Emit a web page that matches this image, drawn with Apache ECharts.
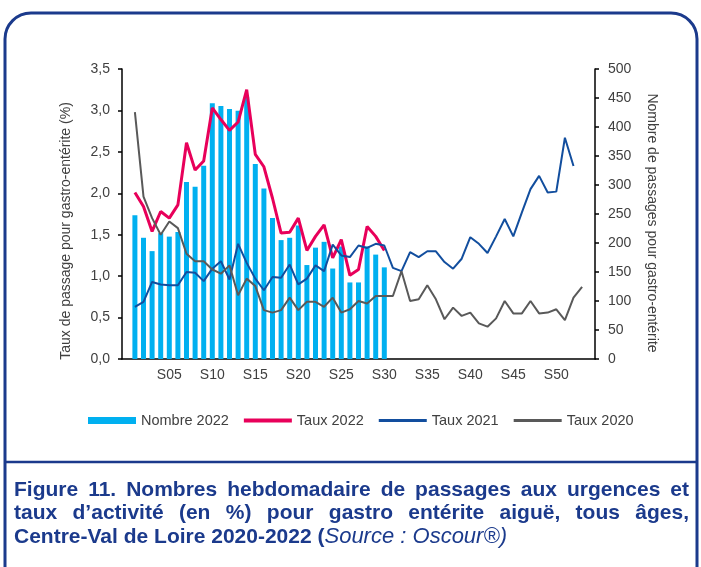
<!DOCTYPE html>
<html>
<head>
<meta charset="utf-8">
<script src="https://cdn.jsdelivr.net/npm/echarts@6/dist/echarts.min.js"></script>
<style>html,body{margin:0;padding:0;background:#fff}#mycharts{width:701px;height:567px}</style>
</head>
<body>
<div id="mycharts"></div>
<script>
// semaines (une case vide avant S01 et après S53, comme dans le graphique d'origine)
var semaines = ['', 'S01', 'S02', 'S03', 'S04', 'S05', 'S06', 'S07', 'S08', 'S09', 'S10',
    'S11', 'S12', 'S13', 'S14', 'S15', 'S16', 'S17', 'S18', 'S19', 'S20',
    'S21', 'S22', 'S23', 'S24', 'S25', 'S26', 'S27', 'S28', 'S29', 'S30',
    'S31', 'S32', 'S33', 'S34', 'S35', 'S36', 'S37', 'S38', 'S39', 'S40',
    'S41', 'S42', 'S43', 'S44', 'S45', 'S46', 'S47', 'S48', 'S49', 'S50',
    'S51', 'S52', 'S53', ''];

// nombre de passages 2022 (axe de droite)
var nombre2022 = [248, 209, 186, 217, 211, 219, 305, 297, 333, 441,
    436, 431, 428, 452, 336, 294, 243, 205, 209, 230,
    162, 192, 202, 156, 194, 132, 132, 194, 180, 158];

// taux de passage en % (axe de gauche)
var taux2022 = [2.01, 1.84, 1.54, 1.78, 1.70, 1.86, 2.61, 2.28, 2.39, 3.03,
    2.89, 2.76, 2.86, 3.25, 2.47, 2.32, 1.94, 1.52, 1.53, 1.70,
    1.31, 1.48, 1.62, 1.22, 1.44, 1.01, 1.08, 1.60, 1.48, 1.31];

var taux2021 = [0.63, 0.69, 0.93, 0.90, 0.89, 0.89, 1.05, 1.04, 0.94, 1.09,
    1.18, 0.96, 1.39, 1.16, 0.97, 0.83, 0.99, 0.98, 1.14, 0.90,
    0.97, 1.13, 1.06, 1.38, 1.25, 1.23, 1.37, 1.34, 1.39, 1.37,
    1.10, 1.06, 1.29, 1.23, 1.30, 1.30, 1.17, 1.09, 1.21, 1.47,
    1.39, 1.28, 1.48, 1.69, 1.48, 1.77, 2.05, 2.21, 2.01, 2.02,
    2.67, 2.33];

var taux2020 = [2.98, 1.96, 1.70, 1.50, 1.66, 1.58, 1.27, 1.18, 1.18, 1.08,
    1.03, 1.13, 0.77, 0.97, 0.88, 0.59, 0.56, 0.59, 0.74, 0.59,
    0.69, 0.69, 0.63, 0.74, 0.56, 0.60, 0.70, 0.67, 0.76, 0.76,
    0.76, 1.06, 0.70, 0.72, 0.89, 0.72, 0.48, 0.62, 0.52, 0.56,
    0.43, 0.39, 0.49, 0.70, 0.55, 0.55, 0.70, 0.55, 0.56, 0.60,
    0.47, 0.74, 0.87];

var legende = [
    'Figure 11. Nombres hebdomadaire de passages aux urgences et',
    'taux d\u2019activité (en %) pour gastro entérite aiguë, tous âges,'
];

var police = '"Liberation Sans", Arial, sans-serif';
var bleuCadre = '#1b3a8c';
var gris = '#404040';
var taille = 21;

// texte de la figure : lignes justifiées mot par mot
var ctx = document.createElement('canvas').getContext('2d');
ctx.font = 'bold ' + taille + 'px ' + police;
var elements = [];
legende.forEach(function(ligne, n) {
    var mots = ligne.split(' ');
    var largeurs = mots.map(function(m) { return ctx.measureText(m).width; });
    var total = largeurs.reduce(function(a, b) { return a + b; }, 0);
    var ecart = (689 - 14 - total) / (mots.length - 1);
    var x = 14;
    mots.forEach(function(m, i) {
        elements.push({
            type: 'text', x: x, y: 490 + n * 23.5,
            style: { text: m, fontSize: taille, fontWeight: 'bold', fontFamily: police, fill: bleuCadre, verticalAlign: 'middle' }
        });
        x += largeurs[i] + ecart;
    });
});
elements.push({
    type: 'text', x: 14, y: 537,
    style: {
        text: '{b|Centre-Val de Loire 2020-2022 (}{i|Source : Oscour®)}',
        verticalAlign: 'middle',
        rich: {
            b: { fontSize: taille, fontWeight: 'bold', fontFamily: police, fill: bleuCadre },
            i: { fontSize: 22, fontStyle: 'italic', fontFamily: police, fill: bleuCadre }
        }
    }
});
elements.push({
    type: 'rect', shape: { x: 5, y: 13, width: 692, height: 590, r: 26 },
    style: { fill: 'none', stroke: bleuCadre, lineWidth: 3 }
});
elements.push({
    type: 'line', shape: { x1: 5, y1: 462, x2: 697, y2: 462 },
    style: { stroke: bleuCadre, lineWidth: 2.5 }
});

function avecDecalage(valeurs) {
    return [null].concat(valeurs);
}

var myChart = echarts.init(document.getElementById('mycharts'));
var option = {
    animation: false,
    textStyle: { fontFamily: police },
    grid: { left: 122, right: 106, top: 69, bottom: 208 },
    legend: {
        left: 83, top: 408,
        itemWidth: 48, itemHeight: 7, itemGap: 15,
        textStyle: { fontSize: 14.5, color: gris },
        data: [
            { name: 'Nombre 2022', icon: 'rect' },
            { name: 'Taux 2022', icon: 'path://M0,0h48v4h-48z' },
            { name: 'Taux 2021', icon: 'path://M0,0h48v3h-48z' },
            { name: 'Taux 2020', icon: 'path://M0,0h48v3h-48z' }
        ]
    },
    xAxis: {
        type: 'category',
        data: semaines,
        axisLine: { lineStyle: { color: '#000', width: 1.5 } },
        axisTick: { length: 4, lineStyle: { color: '#000', width: 1.5 }, interval: function(i) { return i % 5 === 0; } },
        axisLabel: { fontSize: 14, color: gris, margin: 9, interval: function(i) { return i % 5 === 0 && i > 0; } }
    },
    yAxis: [{
        type: 'value', min: 0, max: 3.5, interval: 0.5, position: 'left',
        name: 'Taux de passage pour gastro-entérite (%)',
        nameLocation: 'middle', nameGap: 49,
        nameTextStyle: { fontSize: 14, color: gris, padding: [0, 34, 0, 0] },
        splitLine: { show: false },
        axisLine: { show: true, lineStyle: { color: '#000', width: 1.5 } },
        axisTick: { show: true, length: 4, lineStyle: { color: '#000', width: 1.5 } },
        axisLabel: { fontSize: 14, color: gris, margin: 12, formatter: function(v) { return v.toFixed(1).replace('.', ','); } }
    }, {
        type: 'value', min: 0, max: 500, interval: 50, position: 'right',
        name: 'Nombre de passages pour gastro-entérite',
        nameLocation: 'middle', nameGap: 50, nameRotate: -90,
        nameTextStyle: { fontSize: 14, color: gris, padding: [0, 0, 0, 18] },
        splitLine: { show: false },
        axisLine: { show: true, lineStyle: { color: '#000', width: 1.5 } },
        axisTick: { show: true, length: 4, lineStyle: { color: '#000', width: 1.5 } },
        axisLabel: { fontSize: 14, color: gris, margin: 13 }
    }],
    series: [{
        name: 'Nombre 2022', type: 'bar', yAxisIndex: 1,
        data: avecDecalage(nombre2022),
        barWidth: '58%',
        itemStyle: { color: '#00b0f0' }
    }, {
        name: 'Taux 2022', type: 'line', yAxisIndex: 0,
        data: avecDecalage(taux2022),
        symbol: 'none',
        lineStyle: { color: '#e8005a', width: 3 },
        itemStyle: { color: '#e8005a' }
    }, {
        name: 'Taux 2021', type: 'line', yAxisIndex: 0,
        data: avecDecalage(taux2021),
        symbol: 'none',
        lineStyle: { color: '#124e9e', width: 2 },
        itemStyle: { color: '#124e9e' }
    }, {
        name: 'Taux 2020', type: 'line', yAxisIndex: 0,
        data: avecDecalage(taux2020),
        symbol: 'none',
        lineStyle: { color: '#595959', width: 2 },
        itemStyle: { color: '#595959' }
    }],
    graphic: elements
};

myChart.setOption(option);
</script>
</body>
</html>
